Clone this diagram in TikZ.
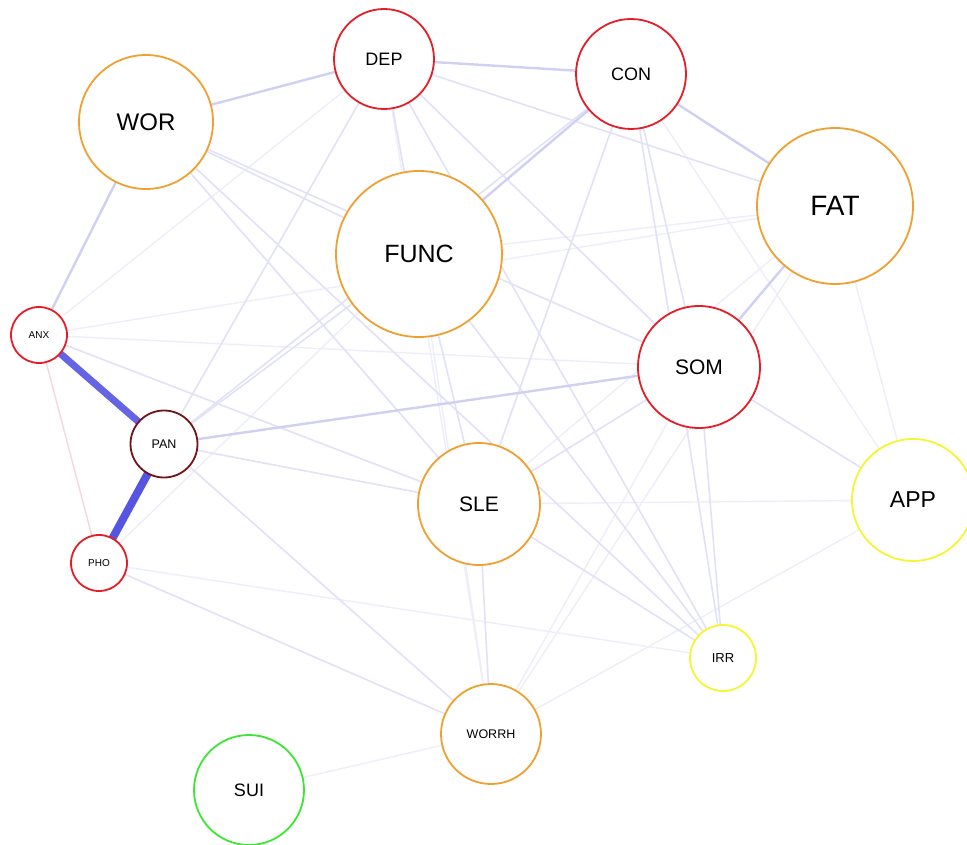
\documentclass[tikz,border=0pt]{standalone}
\usepackage{fontspec}
\setmainfont{Liberation Sans}
\pgfdeclarelayer{back}
\pgfdeclarelayer{bg}
\pgfsetlayers{back,bg,main}
\definecolor{cred}{RGB}{228,30,40}
\definecolor{corange}{RGB}{240,160,48}
\definecolor{cyellow}{RGB}{245,245,50}
\definecolor{cgreen}{RGB}{60,230,50}
\definecolor{cmaroon}{RGB}{115,20,25}
\definecolor{estrong}{RGB}{85,85,225}
\definecolor{emed}{RGB}{208,208,244}
\definecolor{elight}{RGB}{226,226,247}
\definecolor{efaint}{RGB}{238,238,250}
\definecolor{eneg}{RGB}{244,218,220}
\tikzset{
  sym/.style={circle,draw,line width=1.8pt,fill=white,inner sep=0pt,outer sep=0pt},
  fs/.style={font=\fontsize{#1}{#1}\selectfont},
  strongedge/.style={draw=estrong,line width=#1},
  medge/.style={draw=emed,line width=2.4pt},
  ledge/.style={draw=elight,line width=1.6pt},
  fedge/.style={draw=efaint,line width=1.4pt},
  nedge/.style={draw=eneg,line width=1.5pt}
}
\begin{document}
\begin{tikzpicture}[x=1pt,y=-1pt]
\useasboundingbox (0,0) rectangle (967,845);
\begin{pgfonlayer}{back}
\fill[white] (0,0) rectangle (967,845);
\end{pgfonlayer}
\node[sym,draw=cred,minimum size=100pt,fs=18] (DEP) at (384,59) {DEP};
\node[sym,draw=cred,minimum size=110pt,fs=18] (CON) at (631,74) {CON};
\node[sym,draw=corange,minimum size=134pt,fs=24] (WOR) at (146,122) {WOR};
\node[sym,draw=corange,minimum size=156pt,fs=28] (FAT) at (835,206) {FAT};
\node[sym,draw=corange,minimum size=166pt,fs=25] (FUNC) at (419,254) {FUNC};
\node[sym,draw=cred,minimum size=56pt,fs=10] (ANX) at (39,335) {ANX};
\node[sym,draw=cred,minimum size=122pt,fs=21] (SOM) at (699,367) {SOM};
\node[sym,draw=cmaroon,minimum size=67pt,fs=12.5] (PAN) at (164,444) {PAN};
\node[sym,draw=corange,minimum size=122pt,fs=21] (SLE) at (479,504) {SLE};
\node[sym,draw=cyellow,minimum size=122pt,fs=23] (APP) at (913,500) {APP};
\node[sym,draw=cred,minimum size=56pt,fs=10] (PHO) at (99,563) {PHO};
\node[sym,draw=cyellow,minimum size=66pt,fs=13] (IRR) at (723,658) {IRR};
\node[sym,draw=corange,minimum size=100pt,fs=12.5] (WORRH) at (491,734) {WORRH};
\node[sym,draw=cgreen,minimum size=110pt,fs=18] (SUI) at (249,790) {SUI};
\begin{pgfonlayer}{bg}
% faint edges
\foreach \a/\b in {ANX/DEP,ANX/FAT,ANX/SOM,PHO/FUNC,PHO/IRR,FAT/FUNC,FAT/APP,CON/APP,FAT/SLE,FAT/WORRH,SOM/WORRH,SLE/APP,APP/WORRH,WORRH/SUI,DEP/WORRH,FUNC/WORRH}
  \draw[fedge] (\a) -- (\b);
% light edges
\foreach \a/\b in {DEP/FUNC,DEP/FAT,WOR/FUNC,WOR/SOM,PAN/FUNC,PAN/CON,PAN/DEP,PAN/WORRH,PAN/SLE,ANX/SLE,SOM/APP,SOM/SLE,FUNC/IRR,PHO/WORRH,WOR/SLE,WOR/IRR,SLE/IRR,FUNC/SLE,SLE/WORRH,DEP/SOM,DEP/IRR,CON/SLE,CON/SOM,CON/IRR,SOM/IRR}
  \draw[ledge] (\a) -- (\b);
% medium edges
\foreach \a/\b in {WOR/ANX,WOR/DEP,DEP/CON,CON/FUNC,CON/FAT,FAT/SOM,PAN/SOM}
  \draw[medge] (\a) -- (\b);
\draw[nedge] (ANX) -- (PHO);
\draw[strongedge=7pt,draw={rgb,255:red,100;green,100;blue,228}] (ANX) -- (PAN);
\draw[strongedge=8pt] (PAN) -- (PHO);
\end{pgfonlayer}
\end{tikzpicture}
\end{document}
